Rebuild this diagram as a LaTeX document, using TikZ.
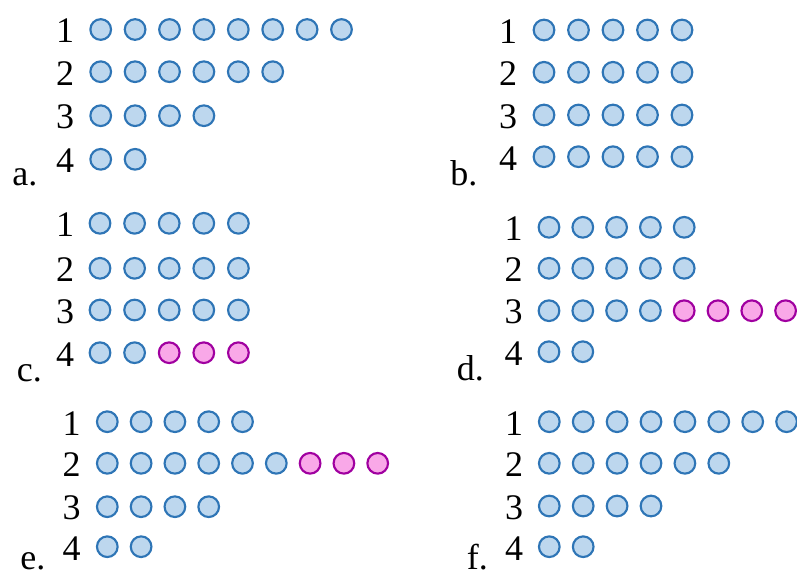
\documentclass[tikz,border=0pt]{standalone}
\usepackage{fontspec}
\setmainfont{Liberation Serif}
\usepackage{xcolor}
\definecolor{beadBack}    {HTML}{BDD7EE}
\definecolor{beadLine}    {HTML}{2E75B6}
\definecolor{extraBack}   {HTML}{F9A8E8}
\definecolor{extraLine}   {HTML}{A000A0}
\tikzset{
    bead/.style={circle, draw, minimum size=15.5pt, inner sep=0pt,
                 line width=1.6pt},
    bplain/.style={bead, fill=beadBack, draw=beadLine},
    bextra/.style={bead, fill=extraBack, draw=extraLine},
    rowlabel/.style={font=\fontsize{27}{31}\selectfont, inner sep=0pt},
    tag/.style={font=\fontsize{27}{31}\selectfont, inner sep=0pt,
                anchor=base west},
}

\begin{document}
\begin{tikzpicture}[x=0.75pt, y=-0.75pt]
    \useasboundingbox (0,0) rectangle (797,576);
    % panel tags
    \node[tag] (a-tag) at (12,185)    {a.};
    \node[tag] (b-tag) at (450,185)   {b.};
    \node[tag] (c-tag) at (16.7,381.7) {c.};
    \node[tag] (d-tag) at (456.7,380) {d.};
    \node[tag] (e-tag) at (20,569)    {e.};
    \node[tag] (f-tag) at (466.7,569) {f.};
    % panel/label x/first bead x/gap/row y/row/plain/extra
    \foreach \p/\lx/\fx/\dx/\yy/\r/\nb/\ne in {
        a/65/100.7/34.4/29.5/1/8/0,  a/65/100.7/34.4/71.7/2/6/0,
        a/65/100.7/34.4/115.7/3/4/0, a/65/100.7/34.4/159.3/4/2/0,
        b/508/544/34.5/30/1/5/0,     b/508/544/34.5/72.3/2/5/0,
        b/508/544/34.5/115/3/5/0,    b/508/544/34.5/156.7/4/5/0,
        c/65/100/34.6/223.3/1/5/0,   c/65/100/34.6/268.3/2/5/0,
        c/65/100/34.6/310/3/5/0,     c/65/100/34.6/352.7/4/2/3,
        d/513.5/549/33.8/227.3/1/5/0, d/513.5/549/33.8/268.3/2/5/0,
        d/513.5/549/33.8/310.7/3/4/4, d/513.5/549/33.8/351.7/4/2/0,
        e/71.7/107.3/33.8/421.7/1/5/0, e/71.7/107.3/33.8/463.3/2/6/3,
        e/71.7/107.3/33.8/506.7/3/4/0, e/71.7/107.3/33.8/546.7/4/2/0,
        f/514/549.3/33.9/421.7/1/8/0, f/514/549.3/33.9/463.3/2/6/0,
        f/514/549.3/33.9/506/3/4/0,   f/514/549.3/33.9/546.7/4/2/0} {
        \node[rowlabel] (\p-lab\r) at (\lx,\yy+1.5) {\r};
        \foreach \k in {1,...,\nb}
            \node[bplain] (\p-\r-\k) at (\fx+\dx*\k-\dx,\yy) {};
        \ifnum\ne>0
            \foreach \k in {1,...,\ne} {
                \pgfmathtruncatemacro{\kk}{\nb+\k}
                \node[bextra] (\p-\r-\kk) at (\fx+\dx*\kk-\dx,\yy) {};
            }
        \fi
    }
\end{tikzpicture}
\end{document}
